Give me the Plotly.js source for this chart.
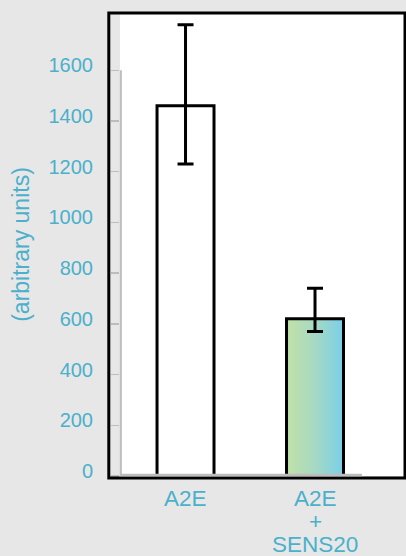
<!DOCTYPE html>
<html>
<head>
<meta charset="utf-8">
<script src="https://cdn.plot.ly/plotly-3.0.1.min.js"></script>
<style>
  html, body { margin: 0; padding: 0; background: #e7e7e7; }
  #chart { width: 406px; height: 556px; }
</style>
</head>
<body>
<div id="chart"></div>
<script>
// ---- data ----
const categories = ['A2E', 'A2E<br>+<br>SENS20'];
const values = [1460, 620];
const errorPlus = [320, 120];
const errorMinus = [230, 50];
const tickValues = [0, 200, 400, 600, 800, 1000, 1200, 1400, 1600];
const yTitle = '(arbitrary units)';

const teal = '#4bb0cb';
const gray = '#bdbdbd';

const trace = {
  type: 'bar',
  x: categories,
  y: values,
  width: 0.44,
  marker: {
    color: ['#ffffff', '#a6d8c6'],
    line: { color: '#000000', width: 3 }
  },
  error_y: {
    type: 'data',
    symmetric: false,
    array: errorPlus,
    arrayminus: errorMinus,
    color: '#000000',
    thickness: 3,
    width: 8
  },
  hoverinfo: 'none'
};

// multi-line category labels, one annotation per line
const annotations = [];
categories.forEach(function (cat) {
  cat.split('<br>').forEach(function (line, j) {
    annotations.push({
      text: line,
      x: cat, xref: 'x',
      y: 0, yref: 'paper',
      yanchor: 'middle',
      yshift: -(22.5 + 23 * j),
      height: 19,
      borderpad: 0,
      showarrow: false,
      font: { family: 'Liberation Sans, Arial, sans-serif', size: 22.5, color: teal }
    });
  });
});

const layout = {
  width: 406,
  height: 556,
  margin: { l: 120, r: 1, t: 13, b: 80 },
  paper_bgcolor: '#e7e7e7',
  plot_bgcolor: '#ffffff',
  showlegend: false,
  font: { family: 'Liberation Sans, Arial, sans-serif', color: teal },
  xaxis: {
    type: 'category',
    range: [-0.506, 1.695],
    showticklabels: false,
    ticks: '',
    showgrid: false,
    zeroline: false,
    showline: false,
    fixedrange: true
  },
  yaxis: {
    range: [0, 1826],
    tickvals: tickValues,
    ticktext: tickValues.map(String),
    ticks: 'outside',
    ticklen: 8,
    tickwidth: 1.5,
    tickcolor: gray,
    ticklabelstandoff: 14,
    ticklabelshift: -5,
    tickfont: { size: 20, color: teal },
    showgrid: false,
    zeroline: false,
    showline: false,
    fixedrange: true,
    title: { text: yTitle, font: { size: 23, color: teal }, standoff: 12 }
  },
  shapes: [
    // outer black frame
    { type: 'rect', xref: 'paper', yref: 'paper', x0: -0.0393, x1: 1.0, y0: -0.0043, y1: 1.0,
      line: { color: '#000000', width: 3 }, fillcolor: 'rgba(0,0,0,0)', layer: 'above' },
    // y axis line
    { type: 'line', xref: 'paper', yref: 'y', x0: 0.003, x1: 0.003, y0: 0, y1: tickValues[tickValues.length - 1],
      line: { color: gray, width: 2 }, layer: 'above' },
    // x axis line
    { type: 'line', xref: 'paper', yref: 'paper', x0: 0, x1: 0.849, y0: 0.002, y1: 0.002,
      line: { color: gray, width: 2.5 }, layer: 'above' }
  ],
  annotations: annotations
};

Plotly.newPlot('chart', [trace], layout, { displayModeBar: false, staticPlot: true }).then(function (gd) {
  // horizontal gradient for the second bar
  const svgNS = 'http://www.w3.org/2000/svg';
  const svg = gd.querySelector('svg.main-svg');
  let defs = svg.querySelector('defs');
  if (!defs) { defs = document.createElementNS(svgNS, 'defs'); svg.insertBefore(defs, svg.firstChild); }
  const grad = document.createElementNS(svgNS, 'linearGradient');
  grad.setAttribute('id', 'barGrad');
  grad.setAttribute('x1', '0'); grad.setAttribute('y1', '0');
  grad.setAttribute('x2', '1'); grad.setAttribute('y2', '0');
  [['0', '#c2e1a6'], ['0.5', '#a6d9c4'], ['1', '#79cfe8']].forEach(function (s) {
    const st = document.createElementNS(svgNS, 'stop');
    st.setAttribute('offset', s[0]);
    st.setAttribute('stop-color', s[1]);
    grad.appendChild(st);
  });
  defs.appendChild(grad);
  const paths = gd.querySelectorAll('.barlayer .point path');
  if (paths.length > 1) { paths[1].style.fill = 'url(#barGrad)'; }
});
</script>
</body>
</html>
